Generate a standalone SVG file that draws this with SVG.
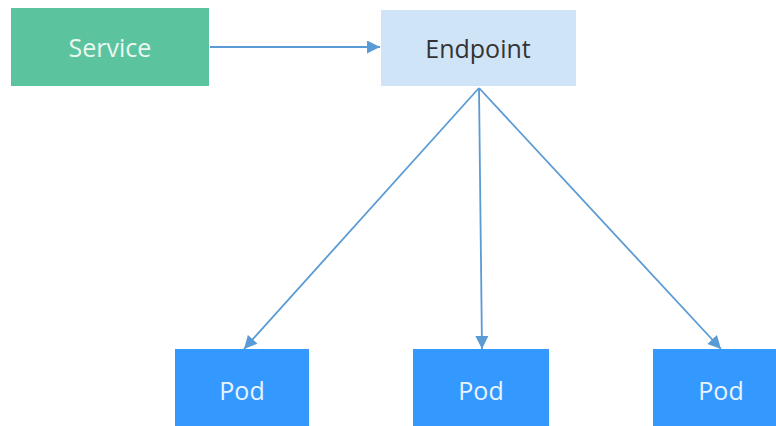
<svg xmlns="http://www.w3.org/2000/svg" width="776" height="426" viewBox="0 0 776 426">
<style>
text{font-family:"Open Sans","Noto Sans",sans-serif;font-size:25px;text-anchor:middle;dominant-baseline:central}
.pod rect{fill:#3399FF}
.pod text{fill:#EAF4FF}
.c{stroke:#5B9BD5;stroke-width:1.8;fill:none;marker-end:url(#ah)}
</style>
<defs>
<marker id="ah" viewBox="0 0 10 10" refX="10" refY="5" markerWidth="14" markerHeight="13" markerUnits="userSpaceOnUse" orient="auto"><path d="M0,0 L10,5 L0,10 z" fill="#5B9BD5"/></marker>
</defs>
<rect width="776" height="426" fill="#fff"/>
<g id="service"><rect x="11" y="8" width="198" height="78" fill="#5BC49F"/><text x="110" y="47" fill="#EAF8F1">Service</text></g>
<g id="endpoint"><rect x="381" y="10" width="195" height="76" fill="#D0E4F8"/><text x="478" y="48" fill="#333">Endpoint</text></g>
<g id="pod1" class="pod"><rect x="175" y="349" width="134" height="80"/><text x="242" y="390">Pod</text></g>
<g id="pod2" class="pod"><rect x="413" y="349" width="136" height="80"/><text x="481" y="390">Pod</text></g>
<g id="pod3" class="pod"><rect x="653" y="349" width="126" height="80"/><text x="721" y="390">Pod</text></g>
<g id="connectors">
<line class="c" x1="210" y1="47" x2="380" y2="47"/>
<line class="c" x1="479" y1="88" x2="244" y2="349"/>
<line class="c" x1="479" y1="88" x2="482" y2="349"/>
<line class="c" x1="479" y1="88" x2="721" y2="349"/>
</g>
</svg>
